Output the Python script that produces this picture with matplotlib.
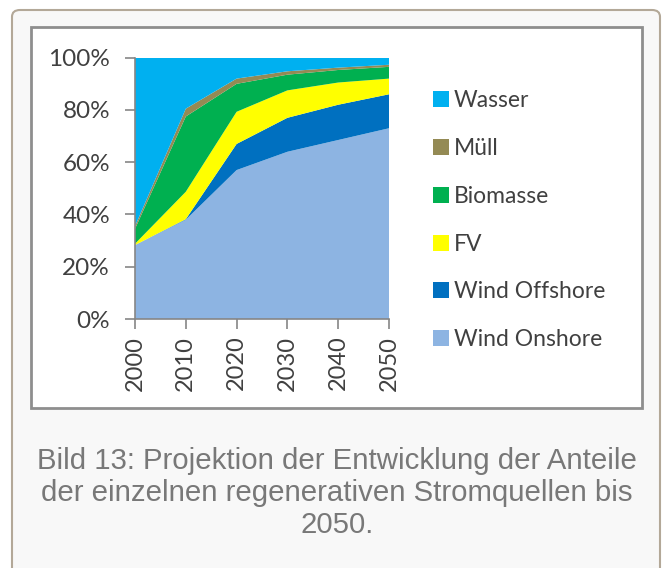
"""
Projektion der Anteile regenerativer Stromquellen bis 2050 (gestapelte Flaechen).
"""

import matplotlib
import matplotlib.pyplot as plt
from matplotlib.patches import FancyBboxPatch, Rectangle, Patch
from matplotlib.ticker import PercentFormatter

matplotlib.rcParams["font.family"] = ["Lato", "DejaVu Sans"]

# Data (share in percent)
years = [2000, 2010, 2020, 2030, 2040, 2050]
wind_onshore = [28.3, 38.0, 57.0, 64.0, 68.5, 73.0]
wind_offshore = [0.0, 0.2, 10.0, 13.0, 13.5, 13.0]
fv = [0.5, 10.5, 12.3, 10.5, 8.5, 6.0]
biomasse = [5.7, 28.8, 10.7, 6.0, 4.8, 4.5]
muell = [1.0, 3.0, 2.0, 1.3, 0.9, 0.8]
wasser = [64.5, 19.5, 8.0, 5.2, 3.8, 2.7]

labels = ["Wind Onshore", "Wind Offshore", "FV", "Biomasse", "Müll", "Wasser"]
colors = ["#8DB4E2", "#0070C0", "#FFFF00", "#00B050", "#948A54", "#00B0F0"]
yticks = [0, 20, 40, 60, 80, 100]

caption = ("Bild 13: Projektion der Entwicklung der Anteile\n"
           "der einzelnen regenerativen Stromquellen bis\n"
           "2050.")

W, H = 664, 568
fig = plt.figure(figsize=(W / 100, H / 100), dpi=100)
fig.patch.set_facecolor("white")

# outer rounded frame
outer = FancyBboxPatch(
    (12 / W, -0.05), (660 - 12) / W, (H - 10) / H + 0.05,
    boxstyle="round,pad=0,rounding_size=0.012",
    transform=fig.transFigure, facecolor="#f8f8f8", edgecolor="#b3a898",
    linewidth=1.5, zorder=0,
)
fig.patches.append(outer)

# inner picture frame
inner = Rectangle(
    (31 / W, 1 - 408 / H), (642 - 31) / W, (408 - 27) / H,
    transform=fig.transFigure, facecolor="white", edgecolor="#8e8e8e",
    linewidth=2, zorder=1,
)
fig.patches.append(inner)

ax = fig.add_axes([135 / W, 1 - 319 / H, (389 - 135) / W, (319 - 57.7) / H])
ax.set_zorder(2)

ax.stackplot(
    years,
    wind_onshore, wind_offshore, fv, biomasse, muell, wasser,
    colors=colors, linewidth=0,
)

ax.set_xlim(years[0], years[-1])
ax.set_ylim(0, 100)
ax.set_xticks(years)
ax.set_xticklabels([str(y) for y in years], rotation=90)
ax.set_yticks(yticks)
ax.yaxis.set_major_formatter(PercentFormatter(decimals=0))

for side in ["top", "right"]:
    ax.spines[side].set_visible(False)
for side in ["left", "bottom"]:
    ax.spines[side].set_color("#868686")
    ax.spines[side].set_linewidth(1.2)

ax.tick_params(axis="y", length=7, width=1.2, color="#868686", pad=11,
               labelsize=17.5, labelcolor="#404040")
ax.tick_params(axis="x", length=7, width=1.2, color="#868686", pad=5,
               labelsize=17, labelcolor="#404040")

handles = [Patch(facecolor=c, edgecolor="none") for c in colors]
leg = fig.legend(
    handles[::-1], labels[::-1],
    loc="upper left", bbox_to_anchor=(424 / W, 1 - 81 / H),
    frameon=False, fontsize=16.5, labelcolor="#404040",
    handlelength=0.7, handleheight=0.7, handletextpad=0.2,
    labelspacing=1.17, borderaxespad=0,
)
leg.set_zorder(3)

fig.text(337 / W, 1 - 493 / H, caption, ha="center", va="center",
         family=["Liberation Sans", "DejaVu Sans"], fontsize=21.2,
         color="#787878", linespacing=1.16)

fig.savefig("out.png", dpi=100)
